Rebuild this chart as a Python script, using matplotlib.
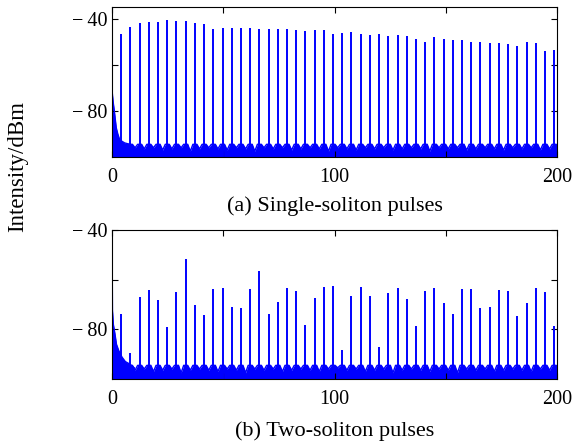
import numpy as np
import matplotlib
matplotlib.use("Agg")
import matplotlib.pyplot as plt

# ---------------- data ----------------
pulse_period = 4.14          # spacing of the harmonic comb (x units)
n_peaks = 48

# (a) single-soliton pulses: peak levels (dBm) of comb lines 1..48
peaks_a = [-46.6, -43.5, -42.0, -41.3, -41.3, -40.6, -41.0, -41.2, -41.9, -42.3,
           -44.5, -44.0, -44.0, -44.0, -44.1, -44.5, -44.4, -44.5, -44.5, -45.1,
           -45.6, -45.0, -44.8, -46.9, -46.2, -45.9, -46.9, -47.3, -46.7, -47.5,
           -47.3, -47.5, -48.9, -50.3, -47.9, -48.8, -49.4, -49.2, -50.3, -50.0,
           -50.4, -50.7, -51.0, -51.9, -50.1, -50.4, -54.1, -53.6]

# (b) two-soliton pulses
peaks_b = [-73.8, -89.5, -67.0, -64.2, -68.2, -79.2, -65.0, -51.6, -70.1, -74.3,
           -63.9, -63.2, -71.1, -71.5, -63.6, -56.6, -74.0, -68.9, -63.2, -64.4,
           -78.2, -67.4, -62.8, -62.5, -88.3, -66.6, -63.1, -66.6, -87.3, -65.5,
           -63.4, -67.9, -78.6, -64.7, -63.5, -69.4, -73.8, -63.9, -63.9, -71.5,
           -71.2, -64.0, -64.4, -74.7, -69.4, -63.5, -64.9, -78.8]

# noise floor level (dBm) in the gap after each comb line
floor_a = [-95.0, -96.0, -96.5, -96.0, -97.0, -96.5, -96.0, -97.5, -96.5, -96.0,
           -96.5, -97.0, -96.0, -96.5, -97.5, -96.0, -96.5, -96.0, -97.0, -96.5,
           -96.0, -96.5, -97.5, -96.0, -96.5, -97.0, -96.0, -96.5, -96.0, -97.0,
           -96.5, -96.0, -96.5, -97.5, -96.0, -96.5, -96.0, -97.0, -96.5, -96.0,
           -96.5, -97.0, -96.0, -96.5, -96.0, -97.0, -96.5, -96.0]
floor_b = [-95.5, -96.5, -96.0, -97.0, -96.5, -96.0, -97.5, -96.5, -96.0, -96.5,
           -97.0, -96.0, -96.5, -97.5, -96.0, -96.5, -96.0, -97.0, -96.5, -96.0,
           -96.5, -97.0, -96.0, -95.5, -96.5, -96.0, -97.0, -96.5, -96.0, -97.5,
           -96.5, -96.0, -96.5, -97.0, -96.0, -96.5, -97.5, -96.0, -96.5, -96.0,
           -97.0, -96.5, -96.0, -96.5, -97.0, -96.0, -96.5, -95.5]
pedestal_a = -94.5
pedestal_b = -94.5

# low-frequency decay near zero
decay_a_x = [0.0, 0.5, 1.2, 1.9, 2.6, 3.4, 4.5, 5.7, 8.0, 10.0]
decay_a_y = [-71.0, -76.0, -81.3, -87.3, -90.0, -92.4, -93.2, -93.9, -94.5, -96.0]
decay_b_x = [0.0, 0.0, 0.2, 0.6, 1.3, 2.0, 3.0, 4.5, 6.0, 8.0, 10.0]
decay_b_y = [-100.0, -40.0, -72.3, -78.0, -81.7, -86.0, -88.5, -91.2, -93.0, -94.0, -95.5]

x_ticks = [0, 50, 100, 150, 200]
x_ticklabels = ["0", "", "100", "", "200"]
y_ticks = [-80, -60, -40]
y_ticklabels = ["\u2212\u200980", "", "\u2212\u200940"]
captions = ["(a) Single-soliton pulses", "(b) Two-soliton pulses"]
ylabel = "Intensity/dBm"

# ---------------- drawing ----------------
plt.rcParams["font.family"] = ["Liberation Serif", "DejaVu Serif"]

fig = plt.figure(figsize=(5.77, 4.41), dpi=100)
W, H = 577, 441
ax_a = fig.add_axes([112 / W, 1 - 157 / H, 445 / W, 150 / H])
ax_b = fig.add_axes([112 / W, 1 - 379 / H, 445 / W, 149 / H])


def floor_series(floors, ped):
    xs, ys = [0.0], [floors[0]]
    for k in range(n_peaks):
        xp = (k + 1) * pulse_period
        xs += [xp - 0.9, xp, xp + 0.9, xp + pulse_period / 2]
        ys += [ped, ped, ped, floors[k]]
    return np.array(xs), np.array(ys)


for ax, pk, fl, ped, dx, dy, ylim in [
    (ax_a, peaks_a, floor_a, pedestal_a, decay_a_x, decay_a_y, (-100, -35)),
    (ax_b, peaks_b, floor_b, pedestal_b, decay_b_x, decay_b_y, (-100, -40)),
]:
    xs, ys = floor_series(fl, ped)
    ax.fill_between(dx, -100, dy, color="b", lw=0)
    ax.plot(dx, dy, color="b", lw=1.0)
    ax.fill_between(xs, -100, ys, color="b", lw=0)
    ax.plot(xs, ys, color="b", lw=1.0)
    peak_x = np.arange(1, n_peaks + 1) * pulse_period
    ax.vlines(peak_x, -100, pk, color="b", lw=1.4)
    ax.set_xlim(0, 200)
    ax.set_ylim(*ylim)
    ax.set_xticks(x_ticks)
    ax.set_xticklabels(x_ticklabels)
    ax.set_yticks(y_ticks)
    ax.set_yticklabels(y_ticklabels)
    ax.tick_params(direction="in", top=True, right=True, length=4, width=0.8,
                   labelsize=14.5)
    ax.tick_params(axis="x", pad=8)
    ax.tick_params(axis="y", pad=3)
    for s in ax.spines.values():
        s.set_linewidth(0.8)

fig.text(334.5 / W, 1 - 211 / H, captions[0], ha="center", va="baseline", fontsize=16)
fig.text(334.5 / W, 1 - 436 / H, captions[1], ha="center", va="baseline", fontsize=16)
fig.text(18 / W, 1 - 166 / H, ylabel, rotation=90, ha="center", va="center", fontsize=16.5)

fig.savefig("out.png", dpi=100)
